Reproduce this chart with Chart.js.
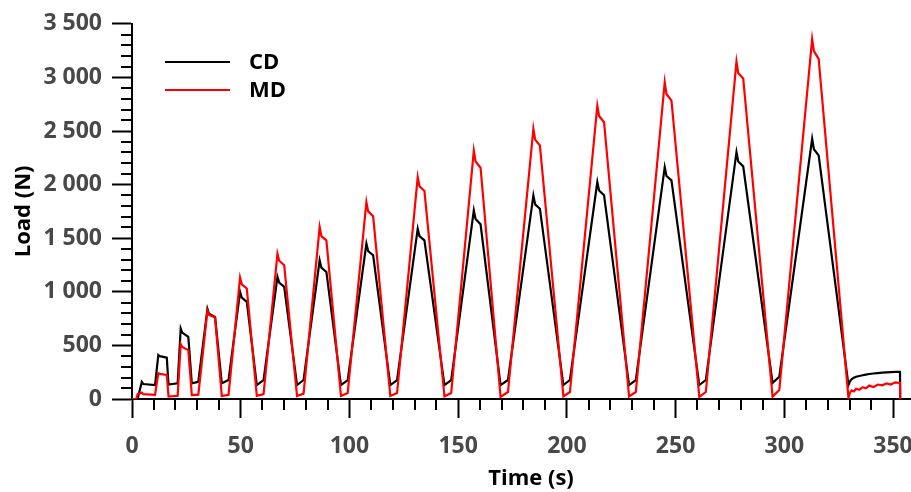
<!DOCTYPE html>
<html>
<head>
<meta charset="utf-8">
<script src="https://cdn.jsdelivr.net/npm/chart.js@4.4.0/dist/chart.umd.min.js"></script>
<style>
  html, body { margin: 0; padding: 0; background: #fff; overflow: hidden; }
  #wrap { width: 911px; height: 492px; overflow: hidden; }
</style>
</head>
<body>
<div id="wrap"><canvas id="loadChart" width="930" height="492"></canvas></div>
<script>
// time (s) shared by both curves
const timeS = [
    0, 2.0, 2.6, 4.5, 5.2, 10.6,
    12.1, 12.8, 16.0, 16.8, 21.0,
    22.4, 23.1, 25.9, 27.5, 30.5,
    34.7, 35.4, 38.2, 41.3, 44.4,
    49.7, 50.5, 52.8, 57.4, 60.5,
    66.9, 67.7, 70.0, 75.9, 78.9,
    86.3, 87.1, 89.4, 96.1, 99.2,
    107.8, 108.6, 110.9, 118.8, 121.9,
    131.4, 132.2, 134.5, 143.7, 146.8,
    157.2, 158.0, 160.3, 169.5, 172.9,
    184.6, 185.4, 187.6, 198.4, 201.4,
    214.0, 214.8, 217.1, 228.6, 231.7,
    245.0, 245.8, 248.1, 260.9, 263.9,
    278.0, 278.8, 281.1, 294.6, 297.7,
    312.8, 313.6, 315.8, 329.5,
    330.2, 331, 332, 333, 334.5, 336, 337.5, 339, 341, 343, 345, 347, 349, 351, 353.2, 353.3
];

const loadCD = [
    0, 0, 0, 160, 140, 130,
    410, 400, 385, 135, 146,
    658, 620, 580, 146, 161,
    840, 795, 766, 146, 177,
    1000, 945, 906, 130, 177,
    1139, 1085, 1046, 130, 177,
    1294, 1225, 1185, 130, 177,
    1450, 1380, 1341, 130, 177,
    1589, 1520, 1480, 130, 177,
    1760, 1680, 1630, 130, 177,
    1899, 1815, 1775, 130, 177,
    2024, 1945, 1900, 130, 177,
    2163, 2080, 2039, 130, 177,
    2303, 2215, 2170, 150, 208,
    2427, 2330, 2272, 130,
    165, 185, 198, 207, 215, 222, 228, 233, 238, 242, 246, 249, 251, 253, 254, 0
];

const loadMD = [
    0, 0, 45, 60, 45, 38,
    240, 235, 225, 22, 30,
    512, 485, 456, 37, 40,
    825, 785, 760, 28, 40,
    1133, 1070, 1031, 30, 45,
    1356, 1290, 1248, 28, 50,
    1604, 1520, 1480, 28, 55,
    1837, 1750, 1704, 28, 55,
    2070, 1985, 1940, 25, 55,
    2318, 2215, 2157, 20, 65,
    2520, 2420, 2365, 25, 65,
    2737, 2640, 2582, 25, 65,
    2955, 2845, 2784, 20, 65,
    3147, 3040, 2990, 22, 84,
    3358, 3245, 3172, 9,
    60, 80, 70, 95, 85, 110, 100, 125, 112, 135, 128, 145, 135, 155, 150, 0
];

const xMajor = [0, 50, 100, 150, 200, 250, 300, 350];

const toPoints = (ys) => timeS.map((t, i) => ({ x: t, y: ys[i] }));

// minor ticks + legend, drawn on top of the axes
const extras = {
    id: 'extras',
    afterDraw(chart) {
        const ctx = chart.ctx;
        const xs = chart.scales.x, ys = chart.scales.y;
        const area = chart.chartArea;
        ctx.save();
        ctx.strokeStyle = '#000';
        ctx.lineWidth = 2;
        ctx.beginPath();
        for (let v = 10; v < 360; v += 10) {
            if (v % 50 === 0) continue;
            const px = Math.round(xs.getPixelForValue(v));
            ctx.moveTo(px, area.bottom);
            ctx.lineTo(px, area.bottom + 11);
        }
        for (let v = 100; v < 3500; v += 100) {
            if (v % 500 === 0) continue;
            const py = Math.round(ys.getPixelForValue(v));
            ctx.moveTo(area.left - 11, py);
            ctx.lineTo(area.left, py);
        }
        ctx.stroke();

        // legend
        ctx.font = 'bold 22px "Open Sans"';
        ctx.textBaseline = 'middle';
        ctx.textAlign = 'left';
        chart.data.datasets.forEach((ds, i) => {
            const y = 62 + i * 28;
            ctx.strokeStyle = ds.borderColor;
            ctx.beginPath();
            ctx.moveTo(165, y);
            ctx.lineTo(230, y);
            ctx.stroke();
            ctx.fillStyle = '#000';
            ctx.fillText(ds.label, 249, y + 1);
        });
        ctx.restore();
    }
};

new Chart(document.getElementById('loadChart'), {
    type: 'line',
    data: {
        datasets: [
            { label: 'CD', data: toPoints(loadCD), borderColor: '#000000', backgroundColor: '#000000', borderWidth: 2.2, pointRadius: 0, tension: 0, order: 1 },
            { label: 'MD', data: toPoints(loadMD), borderColor: '#ff0000', backgroundColor: '#ff0000', borderWidth: 2.2, pointRadius: 0, tension: 0, order: 0 }
        ]
    },
    options: {
        responsive: false,
        animation: false,
        devicePixelRatio: 1,
        layout: { padding: { top: 23, left: 0, right: 0, bottom: 0 } },
        plugins: { legend: { display: false }, tooltip: { enabled: false } },
        scales: {
            x: {
                type: 'linear',
                min: 0,
                max: 367,
                afterBuildTicks: (scale) => { scale.ticks = xMajor.map(v => ({ value: v })); },
                afterFit: (scale) => { scale.height = 93; },
                grid: { display: true, drawOnChartArea: false, drawTicks: true, tickLength: 19, tickColor: '#000', tickWidth: 2 },
                border: { display: true, color: '#000', width: 2 },
                ticks: { padding: 15, color: '#484848', font: { family: 'Open Sans', size: 23, weight: 'bold' }, maxRotation: 0 },
                title: { display: true, text: 'Time (s)', color: '#000', padding: { top: 0, bottom: 0 }, font: { family: 'Open Sans', size: 22, weight: 'bold' } }
            },
            y: {
                min: 0,
                max: 3500,
                afterFit: (scale) => { scale.width = 132; },
                grid: { display: true, drawOnChartArea: false, drawTicks: true, tickLength: 20, tickColor: '#000', tickWidth: 2 },
                border: { display: true, color: '#000', width: 2 },
                ticks: {
                    stepSize: 500,
                    padding: 10,
                    color: '#484848',
                    font: { family: 'Open Sans', size: 23, weight: 'bold' },
                    callback: (v) => v.toString().replace(/\B(?=(\d{3})+(?!\d))/g, ' ')
                },
                title: { display: true, text: 'Load (N)', color: '#000', padding: { top: 11, bottom: 0 }, font: { family: 'Open Sans', size: 22, weight: 'bold' } }
            }
        }
    },
    plugins: [extras]
});
</script>
</body>
</html>
